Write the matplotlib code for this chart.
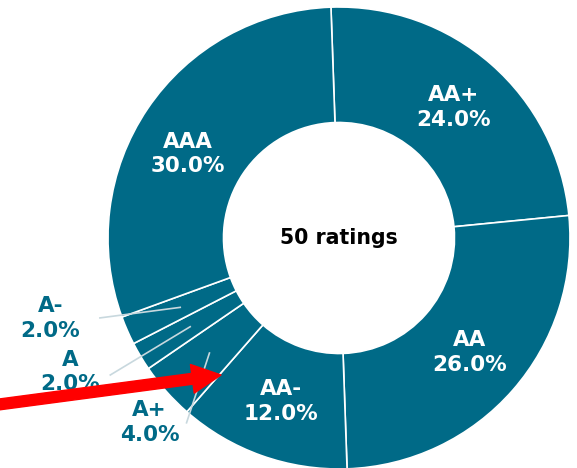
import numpy as np
import matplotlib
matplotlib.use('Agg')
import matplotlib.pyplot as plt

# rating shares (percent of 50 ratings)
ratings = ['AA+', 'AA', 'AA-', 'A+', 'A', 'A-', 'AAA']
shares = [24.0, 26.0, 12.0, 4.0, 2.0, 2.0, 30.0]
n_ratings = 50

# small slices get their labels outside, with a leader line
outside = ['A+', 'A', 'A-']
outside_text_pos = {'A-': (-1.25, -0.35), 'A': (-1.165, -0.58), 'A+': (-0.82, -0.80)}
outside_line_start = {'A-': (-1.035, -0.346), 'A': (-0.99, -0.593), 'A+': (-0.66, -0.80)}
# small nudge of the inside label angle (degrees)
label_nudge = {'AAA': 5}

teal = '#006a87'

fig = plt.figure(figsize=(5.77, 4.68), dpi=100)
R = 231
ax = fig.add_axes([(339 - R) / 577, (468 - 238 - R) / 468, 2 * R / 577, 2 * R / 468])

start = 92
wedges, _ = ax.pie(shares, startangle=start, counterclock=False,
                   colors=[teal] * len(shares),
                   wedgeprops=dict(width=0.5, edgecolor='white', linewidth=1.2))
ax.set_xlim(-1, 1)
ax.set_ylim(-1, 1)
ax.set_aspect('equal')

for w, name, pct in zip(wedges, ratings, shares):
    mid = np.deg2rad((w.theta1 + w.theta2) / 2 + label_nudge.get(name, 0))
    px, py = 0.75 * np.cos(mid), 0.75 * np.sin(mid)
    label = f'{name}\n{pct:.1f}%'
    if name in outside:
        sx, sy = outside_line_start[name]
        ax.plot([sx, px], [sy, py], color='#c8d8de', lw=1.2, clip_on=False, zorder=3)
        tx, ty = outside_text_pos[name]
        ax.text(tx, ty, label, ha='center', va='center', color=teal,
                fontsize=15.5, fontweight='bold', linespacing=1.3)
    else:
        ax.text(px, py, label, ha='center', va='center', color='white',
                fontsize=15.5, fontweight='bold', linespacing=1.3)

ax.text(0, 0, f'{n_ratings} ratings', ha='center', va='center', color='black',
        fontsize=14.8, fontweight='bold')

# red pointer arrow
ax.annotate('', xy=(221, 468 - 375), xytext=(-5, 468 - 405),
            xycoords='figure pixels', textcoords='figure pixels',
            arrowprops=dict(arrowstyle='simple,head_length=0.8,head_width=0.8,tail_width=0.3',
                            mutation_scale=26, color='#ff0000', shrinkA=0, shrinkB=0))

fig.savefig('out.png', dpi=100)
